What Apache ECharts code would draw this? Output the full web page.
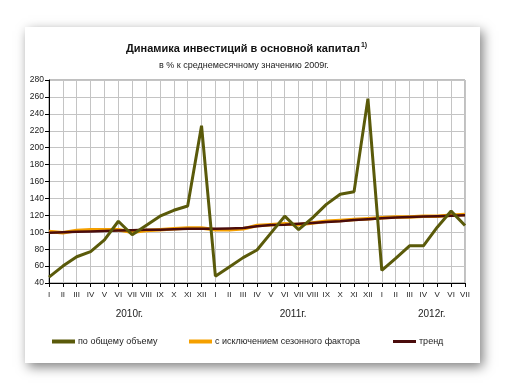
<!DOCTYPE html>
<html>
<head>
<meta charset="utf-8">
<script src="https://cdn.jsdelivr.net/npm/echarts@6/dist/echarts.min.js"></script>
<style>
html,body{margin:0;padding:0;background:#fff;width:507px;height:390px;overflow:hidden;}
#panel{position:absolute;left:25px;top:27px;width:455px;height:336px;background:#fff;box-shadow:3px 4px 11px rgba(0,0,0,0.5);}
#chart{position:absolute;left:0;top:0;width:507px;height:390px;}
</style>
</head>
<body>
<div id="panel"></div>
<div id="chart"></div>
<script>
// ---- data ----
const months = ['I','II','III','IV','V','VI','VII','VIII','IX','X','XI','XII',
                'I','II','III','IV','V','VI','VII','VIII','IX','X','XI','XII',
                'I','II','III','IV','V','VI','VII'];
const monthYears = [2010,2010,2010,2010,2010,2010,2010,2010,2010,2010,2010,2010,
                    2011,2011,2011,2011,2011,2011,2011,2011,2011,2011,2011,2011,
                    2012,2012,2012,2012,2012,2012,2012];
const yearLabels = ['2010г.','2011г.','2012г.'];
const yearLabelPos = [5.8, 17.6, 27.6];
const total = [47,60,71,77,91,113,97,108,119,126,131,226,
               48,59,70,79,99,119,103,117,133,145,148,258,
               55,69,84,84,106,125,108];
const seasAdj = [101,99.5,102,103,103,103,100,102,103,104,105,105,
                 103,103,104,108,109,110,109,111,113,114,115,116,
                 117,118,118,119,119,120,121];
const trend = [99.5,100,100.5,101,101.5,102,102.5,103,103,103.5,104,104,
               104,104.5,105,107,108.5,109,110,111,112,113,114.5,115.5,
               116.5,117.5,118,118.5,119,119.5,120];
const yTicks = {min:40, max:280, step:20};
const seriesNames = ['по общему объему','с исключением сезонного фактора','тренд'];

// ---- chart ----
const SANS = '"Liberation Sans",Arial,sans-serif';
const cats = months.map((m,i)=>m+'|'+monthYears[i]);
const chart = echarts.init(document.getElementById('chart'), null, {renderer:'canvas'});
const colTotal = '#5a5a0a', colSA = '#f5a000', colTrend = '#4a0c0c';
chart.setOption({
  backgroundColor: 'transparent',
  animation: false,
  title: [
    {text:'{a|Динамика инвестиций в основной капитал}{b|1)}', left:126, top:42, padding:0,
     textStyle:{rich:{
       a:{fontFamily:SANS, fontWeight:'bold', fontSize:11, color:'#111'},
       b:{fontFamily:SANS, fontSize:7, color:'#111', verticalAlign:'top', padding:[0,0,7,1]}
     }}},
    {text:'в % к среднемесячному значению 2009г.', left:159, top:61, padding:0,
     textStyle:{fontFamily:SANS, fontWeight:'normal', fontSize:9, color:'#222'}}
  ],
  legend: [
    {data:[seriesNames[0]], left:47, top:332, itemWidth:23, itemHeight:4, icon:'rect', itemGap:4,
     textStyle:{fontFamily:SANS, fontSize:9, color:'#222', padding:[0,0,0,-2]}},
    {data:[seriesNames[1]], left:184, top:332, itemWidth:23, itemHeight:4, icon:'rect',
     textStyle:{fontFamily:SANS, fontSize:9, color:'#222', padding:[0,0,0,-2]}},
    {data:[seriesNames[2]], left:388, top:332, itemWidth:23, itemHeight:3, icon:'rect',
     textStyle:{fontFamily:SANS, fontSize:9, color:'#222', padding:[0,0,0,-2]}}
  ],
  grid: {left:49, right:42, top:80, bottom:107, show:true, borderColor:'#808080', borderWidth:1, backgroundColor:'transparent'},
  xAxis: [
    {type:'category', data:cats, boundaryGap:false,
     axisLine:{lineStyle:{color:'#000', width:1}},
     axisTick:{show:true, interval:0, length:4, lineStyle:{color:'#000'}},
     axisLabel:{interval:0, margin:8, fontFamily:SANS, fontSize:8, color:'#222',
                formatter:v=>v.split('|')[0]},
     splitLine:{show:true, interval:0, lineStyle:{color:'#c4c4c4', width:1}}},
    {type:'value', position:'bottom', offset:20, min:0, max:cats.length-1, interval:0.1,
     axisLine:{show:false}, axisTick:{show:false}, splitLine:{show:false},
     axisLabel:{margin:6, fontFamily:SANS, fontSize:10, color:'#222', showMinLabel:true, showMaxLabel:true,
       formatter:v=>{for(let k=0;k<yearLabelPos.length;k++){if(Math.abs(v-yearLabelPos[k])<0.01)return yearLabels[k];} return '';}}}
  ],
  yAxis: {type:'value', min:yTicks.min, max:yTicks.max, interval:yTicks.step,
    axisLine:{show:true, lineStyle:{color:'#000'}},
    axisTick:{show:true, length:4, lineStyle:{color:'#000'}},
    axisLabel:{margin:5, fontFamily:SANS, fontSize:8.5, color:'#222'},
    splitLine:{show:true, lineStyle:{color:'#c4c4c4', width:1}}},
  series: [
    {name:seriesNames[1], type:'line', data:seasAdj, showSymbol:false, symbol:'none',
     lineStyle:{color:colSA, width:3.5}, itemStyle:{color:colSA}, z:2},
    {name:seriesNames[2], type:'line', data:trend, showSymbol:false, symbol:'none',
     lineStyle:{color:colTrend, width:2.5}, itemStyle:{color:colTrend}, z:3},
    {name:seriesNames[0], type:'line', data:total, showSymbol:false, symbol:'none',
     lineStyle:{color:colTotal, width:3}, itemStyle:{color:colTotal}, z:4}
  ]
});
</script>
</body>
</html>
